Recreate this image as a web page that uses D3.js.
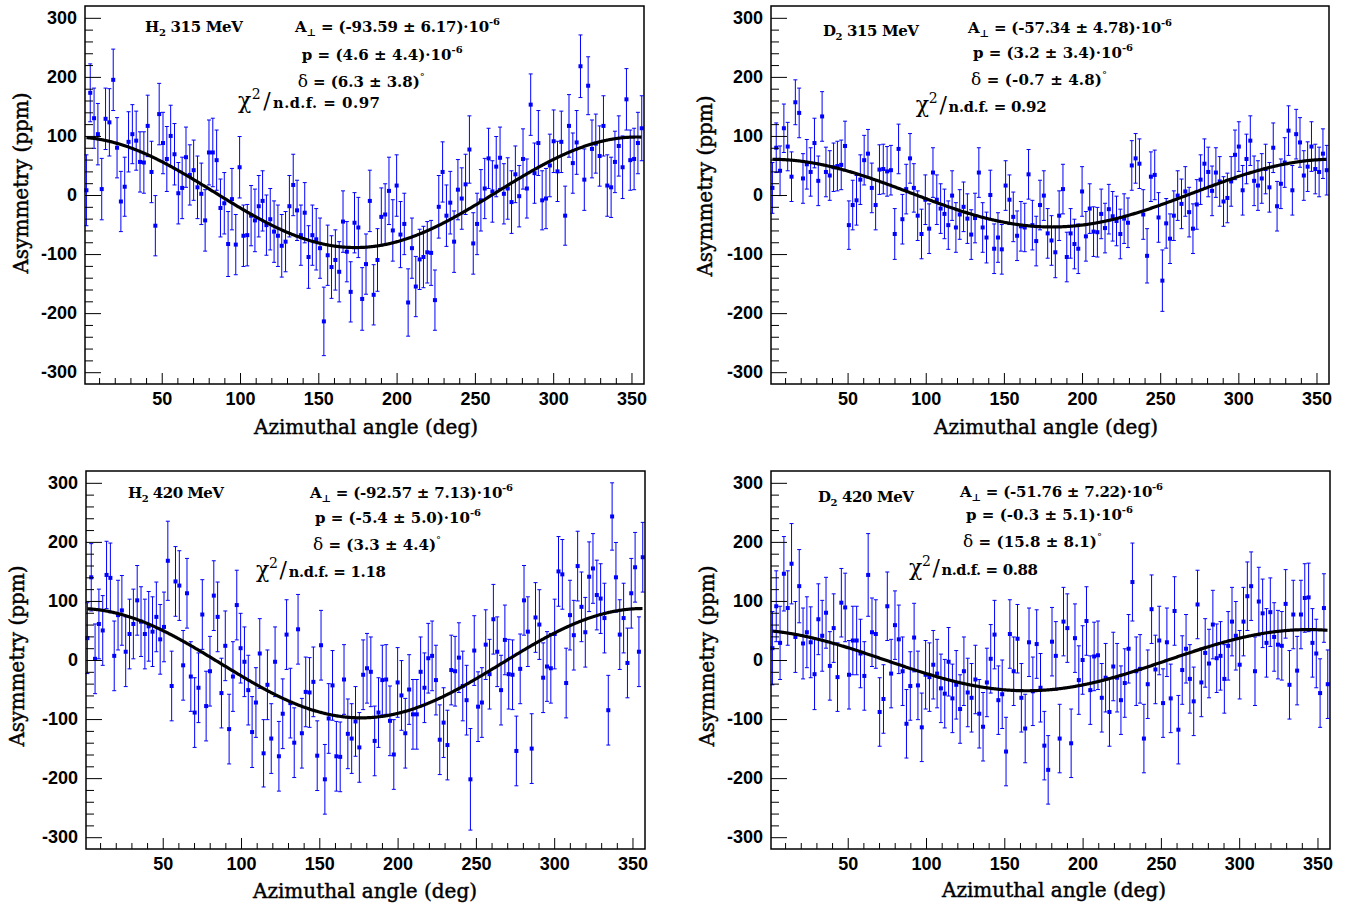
<!DOCTYPE html>
<html>
<head>
<meta charset="utf-8">
<script src="https://cdn.jsdelivr.net/npm/d3@7"></script>
<style>
body { margin: 0; background: #fff; }
svg { display: block; }
.tick text { font-family: "Liberation Sans", Arial, sans-serif; font-weight: bold; font-size: 18px; fill: #000; }
.axis-title { font-family: "DejaVu Serif", serif; font-size: 20px; fill: #000; stroke: #000; stroke-width: 0.45px; }
.note { font-family: "DejaVu Serif", serif; font-weight: bold; font-size: 15px; fill: #000; }
</style>
</head>
<body>
<svg id="chart" width="1348" height="907"></svg>
<script>
// bin centres of the azimuthal histogram (deg)
const angleStart = 1.9, angleStep = 2.446, nBins = 146;
const angles = d3.range(nBins).map(i => angleStart + i * angleStep);

const xTicks = [50, 100, 150, 200, 250, 300, 350];
const yTicks = [-300, -200, -100, 0, 100, 200, 300];

// asymmetries (ppm) per bin
const h2_315 = [8,173,130,103,10,129,123,195,80,-11, 14,90,103,92,56,55,117,39,-52,137,
  88,61,100,69,3,12,64,34,42,13, 2,-43,72,72,59,-22,-14,-83,-7,-84,
  47,-69,-68,-35,-43,-19,-10,-51,-41,-62, -69,-86,-79,-19,17,-26,-68,-30,-105,-68,
  -75,-90,-214,-102,-122,-110,-130,-45,-96,-164, -47,-55,-176,-117,-10,-169,-110,-37,-33,7,
  -60,16,-67,-49,-182,-90,-155,-109,-105,-97, -98,-178,-20,39,-35,-13,-79,9,-6,18,
  77,-82,-49,-9,11,62,6,48,63,2, 11,-12,35,-2,61,11,153,37,88,-9,
  -6,50,91,40,90,-35,117,54,89,218, 26,185,78,87,66,117,16,13,56,83,
  47,162,59,61,88,113];
const h2_315_err = [60,49,51,52,52,52,57,52,51,51, 50,51,50,50,51,52,52,52,51,52,
  52,55,52,52,52,52,51,51,51,53, 52,52,55,58,51,49,52,55,52,51,
  52,52,52,51,53,52,51,51,52,52, 52,53,51,52,52,51,51,51,53,51,
  52,51,58,51,53,51,51,52,51,51, 51,51,53,51,52,51,53,49,52,57,
  52,52,56,52,57,51,51,51,52,52, 55,51,53,51,52,53,52,51,52,51,
  57,52,52,52,51,51,52,51,52,51, 52,53,48,52,51,50,52,51,55,50,
  51,53,53,51,52,50,53,51,54,53, 52,49,49,50,51,51,52,51,52,51,
  53,52,51,52,52,55];

const d2_315 = [12,80,41,113,82,31,157,139,28,52, 39,88,24,133,39,33,47,49,51,83,
  -51,-17,-9,26,59,70,12,-17,43,44, 40,42,-66,78,-41,10,62,12,-35,-66,
  -8,-57,38,-8,-23,-32,-51,-1,-55,-33, -20,-40,-67,-39,38,-55,-72,0,-91,-72,
  -92,16,-8,-37,-69,-53,-55,35,-51,-78, -17,-1,-65,-77,-97,-35,10,-105,-65,-83,
  -91,6,-70,-23,-62,-63,-32,-56,-24,-36, -44,-66,-40,-47,50,62,53,-33,-103,31,
  34,-38,-145,-48,-74,-35,-1,-15,6,-29, -57,-16,26,53,39,7,38,23,-11,-5,
  23,68,82,8,61,92,24,16,28,44, 13,80,-19,19,55,109,8,103,89,33,
  48,82,44,39,70,42];
const d2_315_err = [43,42,42,41,41,42,38,42,42,42, 41,42,42,42,42,42,41,42,42,42,
  41,42,42,42,42,41,42,42,42,42, 42,42,43,42,42,42,42,41,42,42,
  42,42,42,42,42,42,41,42,42,42, 42,42,42,42,42,42,43,42,42,42,
  42,42,42,42,42,42,41,42,42,42, 42,42,42,42,43,42,42,42,42,42,
  42,42,42,42,42,42,42,42,42,42, 42,42,42,42,42,42,42,42,46,42,
  42,42,52,42,42,42,42,42,42,42, 42,42,42,42,42,42,42,42,42,42,
  42,42,42,42,42,42,42,42,42,42, 42,42,42,42,42,42,42,42,42,42,
  42,42,42,42,42,42];

const h2_420 = [37,140,2,61,50,144,139,7,76,84, 14,44,61,101,65,44,57,48,73,35,
  56,168,-44,133,126,-9,113,-28,-89,-47, 77,-78,-19,109,73,-56,24,-117,-28,93,
  20,-3,-51,-122,-72,11,-158,-42,-133,-3, -163,-91,43,-73,-140,52,-124,-54,-55,-37,
  -162,25,-202,-99,-43,-163,-164,-33,-125,-133, -104,-148,-25,-14,-20,-137,-89,-34,-33,-103,
  -160,-38,-60,-124,-50,-92,-92,-20,-47,3, 7,-34,-135,-106,-144,-17,-19,4,-44,-68,
  -202,16,-79,-72,26,-24,69,14,-51,34, -24,-25,-154,-15,101,48,-150,72,60,-30,
  -11,-14,44,150,145,-39,76,42,159,90, 47,141,155,110,104,71,-85,243,140,43,
  71,-5,113,157,14,174];
const h2_420_err = [60,57,59,59,59,57,59,59,59,59, 59,59,59,59,59,59,59,59,59,59,
  59,67,59,59,59,59,59,59,59,59, 59,59,59,59,59,59,59,59,59,59,
  59,59,59,60,59,59,57,59,59,59, 59,59,59,59,59,59,59,59,59,59,
  59,59,59,59,59,59,59,59,59,59, 59,59,59,59,59,59,59,59,59,59,
  59,59,59,59,59,59,59,59,59,59, 59,59,59,59,59,59,59,59,59,59,
  86,59,59,59,59,59,59,59,59,59, 59,59,59,59,59,59,59,59,59,59,
  59,59,59,59,59,59,59,59,59,59, 59,59,59,59,59,59,59,57,59,59,
  59,59,59,59,59,59];

const d2_420 = [20,91,29,146,88,163,39,125,28,47, 30,-24,69,41,80,-10,54,-29,97,89,
  -25,33,33,11,-27,144,47,44,-88,-66, 91,-23,59,35,-19,-108,-44,38,-43,-114,
  -25,-29,-8,-23,-48,-57,-3,-65,-42,-83, -19,-55,-64,-33,-91,-113,-38,2,43,-68,
  -58,-155,44,-19,36,-64,-116,30,-53,27, -47,-145,-186,31,7,-133,65,54,-141,37,
  -34,0,66,-51,6,8,-64,-30,-88,-11, -30,-68,-39,19,132,-19,-15,-133,-41,86,
  -16,33,-73,30,-65,83,-118,-17,19,-32, -70,94,-38,12,-6,60,3,7,-32,24,
  65,41,-8,65,108,125,-19,99,79,29, 81,39,26,24,95,-42,77,-18,77,105,
  106,29,11,-56,88,-41];
const d2_420_err = [62,60,62,63,63,68,60,62,60,60, 60,60,60,60,60,58,58,58,58,58,
  58,58,58,58,58,70,58,58,58,58, 58,58,58,58,58,58,58,58,58,58,
  58,58,58,58,58,58,58,58,58,58, 58,58,58,58,58,58,58,58,58,58,
  58,58,58,58,58,58,58,58,58,58, 58,58,58,58,58,58,58,58,58,58,
  58,58,58,58,58,58,58,58,58,58, 58,58,58,58,66,58,58,58,58,58,
  58,58,58,58,58,58,58,58,58,58, 58,58,58,58,58,58,58,58,58,58,
  58,58,58,58,58,58,58,58,58,58, 58,58,58,58,58,58,58,58,58,58,
  58,58,58,58,58,58];

// fit results printed in each panel
const targets = ["H", "D", "H", "D"];
const energies = [315, 315, 420, 420];
const fitA = [-93.59, -57.34, -92.57, -51.76];
const fitAerr = [6.17, 4.78, 7.13, 7.22];
const fitP = [4.6, 3.2, -5.4, -0.3];
const fitPerr = [4.4, 3.4, 5.0, 5.1];
const fitDelta = [6.3, -0.7, 3.3, 15.8];
const fitDeltaErr = [3.8, 4.8, 4.4, 8.1];
const chi2ndf = [0.97, 0.92, 1.18, 0.88];

const xDomain = [1, 358], yDomain = [-320, 320];

// frame boxes and text anchors; the last number of a text anchor is its width
const panels = [
  {values: h2_315, errors: h2_315_err, left: 85, right: 644, top: 6, bottom: 384,
   title: [145, 31.7, 98], aPos: [295, 31.7, 205], pPos: [301.7, 60, 161], dPos: [297.7, 86.7, 127], cPos: [238, 108.3, 142],
   xTitle: [366, 434], yTitle: [28, 183]},
  {values: d2_315, errors: d2_315_err, left: 771, right: 1329, top: 6, bottom: 384,
   title: [823, 36, 96], aPos: [968, 33.3, 204], pPos: [973, 58.3, 160], dPos: [971, 85, 136], cPos: [915.7, 111.7, 131],
   xTitle: [1046, 434], yTitle: [712, 186]},
  {values: h2_420, errors: h2_420_err, left: 86, right: 645, top: 471, bottom: 849,
   title: [128, 498.3, 96], aPos: [310, 498.3, 203], pPos: [315, 523.3, 166], dPos: [313, 550, 128], cPos: [256, 576.7, 130],
   xTitle: [365, 898], yTitle: [24, 656]},
  {values: d2_420, errors: d2_420_err, left: 771, right: 1330, top: 471, bottom: 849,
   title: [818, 502.3, 96], aPos: [960, 496.7, 203], pPos: [966, 520, 167], dPos: [963, 546.7, 139], cPos: [909, 575, 129],
   xTitle: [1054, 897], yTitle: [714, 656]}
];

const svg = d3.select("#chart");

function note(g, pos, parts) {
  let t = g.append("text").attr("class", "note").attr("x", pos[0]).attr("y", pos[1])
    .attr("textLength", pos[2]).attr("lengthAdjust", "spacing");
  parts.forEach(p => {
    let s = t.append("tspan").text(p.t);
    if (p.size) s.style("font-size", p.size + "px");
    if (p.dy) s.attr("dy", p.dy);
    if (p.dx) s.attr("dx", p.dx);
    if (p.normal) s.style("font-weight", "normal");
  });
}

function drawPanel(p, k) {
  const x = d3.scaleLinear().domain(xDomain).range([p.left, p.right]);
  const y = d3.scaleLinear().domain(yDomain).range([p.bottom, p.top]);
  const g = svg.append("g");

  const pts = p.values.map((v, i) => ({a: angles[i], v: v, e: p.errors[i]}));

  g.selectAll(".bar").data(pts).join("line")
    .attr("x1", d => x(d.a)).attr("x2", d => x(d.a))
    .attr("y1", d => y(d.v + d.e)).attr("y2", d => y(d.v - d.e))
    .attr("stroke", "#0000ff").attr("stroke-width", 1);
  [1, -1].forEach(s => {
    g.selectAll(".cap" + s).data(pts).join("line")
      .attr("x1", d => x(d.a) - 2).attr("x2", d => x(d.a) + 2)
      .attr("y1", d => y(d.v + s * d.e)).attr("y2", d => y(d.v + s * d.e))
      .attr("stroke", "#0000ff").attr("stroke-width", 1);
  });
  g.selectAll(".pt").data(pts).join("rect")
    .attr("x", d => x(d.a) - 2).attr("y", d => y(d.v) - 2)
    .attr("width", 4).attr("height", 4).attr("fill", "#0000ff");

  // fitted curve  A = -A_perp cos(phi + delta) + p
  const fitX = d3.range(angles[0], angles[nBins - 1] + 0.01, 0.5);
  const fitLine = d3.line()
    .x(a => x(a))
    .y(a => y(-fitA[k] * Math.cos((a + fitDelta[k]) * Math.PI / 180) + fitP[k]));
  g.append("path").datum(fitX).attr("d", fitLine)
    .attr("fill", "none").attr("stroke", "#000").attr("stroke-width", 3.2);

  // axes, ticks pointing inwards
  const xMinor = d3.range(10, 351, 10).filter(v => v % 50 != 0);
  const yMinor = d3.range(-300, 301, 20).filter(v => v % 100 != 0);
  g.append("g").attr("transform", "translate(0," + p.bottom + ")")
    .call(d3.axisBottom(x).tickValues(xMinor).tickSize(-6).tickFormat(""));
  g.append("g").attr("transform", "translate(0," + p.bottom + ")")
    .call(d3.axisBottom(x).tickValues(xTicks).tickSize(-11).tickPadding(8).tickFormat(d => String(d)));
  g.append("g").attr("transform", "translate(" + p.left + ",0)")
    .call(d3.axisLeft(y).tickValues(yMinor).tickSize(-8).tickFormat(""));
  g.append("g").attr("transform", "translate(" + p.left + ",0)")
    .call(d3.axisLeft(y).tickValues(yTicks).tickSize(-16).tickPadding(8).tickFormat(d => String(d)));
  g.selectAll(".domain").remove();
  g.selectAll(".tick line").attr("stroke", "#000").attr("stroke-width", 1);

  g.append("rect").attr("x", p.left).attr("y", p.top)
    .attr("width", p.right - p.left).attr("height", p.bottom - p.top)
    .attr("fill", "none").attr("stroke", "#000").attr("stroke-width", 1.5);

  g.append("text").attr("class", "axis-title")
    .attr("x", p.xTitle[0]).attr("y", p.xTitle[1]).attr("text-anchor", "middle")
    .text("Azimuthal angle (deg)");
  g.append("text").attr("class", "axis-title")
    .attr("transform", "translate(" + p.yTitle[0] + "," + p.yTitle[1] + ") rotate(-90)")
    .attr("text-anchor", "middle")
    .text("Asymmetry (ppm)");

  // fit box text
  note(g, p.title, [{t: targets[k]}, {t: "2", size: 10, dy: 4}, {t: " " + energies[k] + " MeV", dy: -4}]);
  note(g, p.aPos, [{t: "A"}, {t: "\u22a5", size: 10, dy: 4},
    {t: " = (" + fitA[k].toFixed(2) + " \u00b1 " + fitAerr[k].toFixed(2) + ")\u00b710", dy: -4},
    {t: "-6", size: 10, dy: -7}]);
  note(g, p.pPos, [{t: "p = (" + fitP[k].toFixed(1) + " \u00b1 " + fitPerr[k].toFixed(1) + ")\u00b710"},
    {t: "-6", size: 10, dy: -7}]);
  note(g, p.dPos, [{t: "\u03b4", size: 17, normal: true},
    {t: " = (" + fitDelta[k].toFixed(1) + " \u00b1 " + fitDeltaErr[k].toFixed(1) + ")"},
    {t: "\u00b0", size: 10, dy: -7, normal: true}]);
  note(g, p.cPos, [{t: "\u03c7", size: 22, normal: true}, {t: "2", size: 14, dy: -9, normal: true},
    {t: "/", size: 22, dy: 9, dx: 2, normal: true}, {t: "n.d.f.", size: 14.5, dx: 2},
    {t: " = " + chi2ndf[k].toFixed(2)}]);
}

panels.forEach((p, k) => drawPanel(p, k));
</script>
</body>
</html>
